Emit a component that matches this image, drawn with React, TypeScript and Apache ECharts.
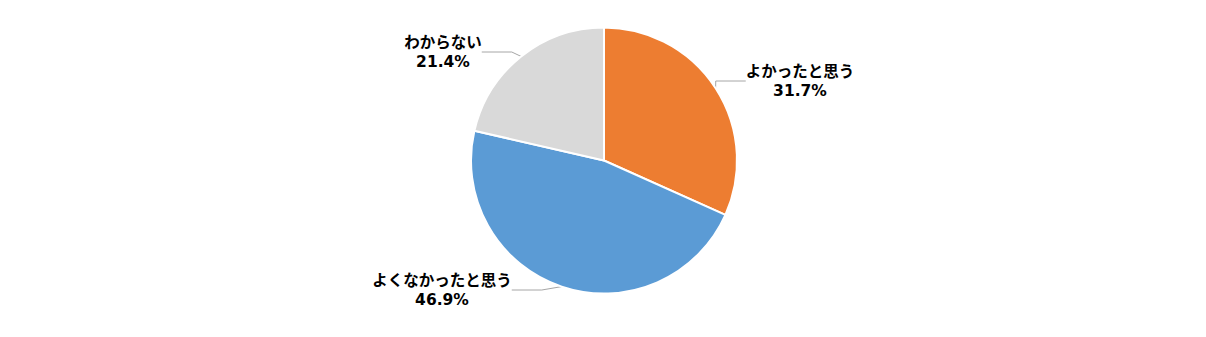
import React, { useEffect, useRef } from "react";
import * as echarts from "echarts";

const categories = ["よかったと思う", "よくなかったと思う", "わからない"];
const values = [31.7, 46.9, 21.4];
const colors = ["#ED7D31", "#5B9BD5", "#D9D9D9"];
const labelAnchors = [
  { x: 800, y: 81 },
  { x: 442, y: 290 },
  { x: 443, y: 52 },
];

export default function App() {
  const ref = useRef<HTMLDivElement>(null);
  useEffect(() => {
    document.body.style.margin = "0";
    const chart = echarts.init(ref.current!, null, { renderer: "svg" });
    chart.setOption({
      animation: false,
      backgroundColor: "#ffffff",
      series: [
        {
          type: "pie",
          center: [604, 160.5],
          radius: 133,
          startAngle: 90,
          clockwise: true,
          data: categories.map((name, i) => ({
            name,
            value: values[i],
            itemStyle: { color: colors[i] },
          })),
          itemStyle: { borderColor: "#ffffff", borderWidth: 2 },
          label: {
            show: true,
            formatter: (p: any) => `${p.name}\n${p.value.toFixed(1)}%`,
            fontFamily: "'DejaVu Sans', 'Noto Sans CJK JP', sans-serif",
            fontWeight: "bold",
            fontSize: 15.5,
            lineHeight: 19,
            color: "#000000",
            align: "center",
          },
          labelLine: {
            show: true,
            lineStyle: { color: "#A6A6A6", width: 1 },
          },
          labelLayout: (params: any) => {
            const a = labelAnchors[params.dataIndex];
            return { x: a.x, y: a.y, align: "center", verticalAlign: "middle" };
          },
        },
      ],
    });
    return () => chart.dispose();
  }, []);
  return <div ref={ref} style={{ width: 1206, height: 337 }} />;
}
